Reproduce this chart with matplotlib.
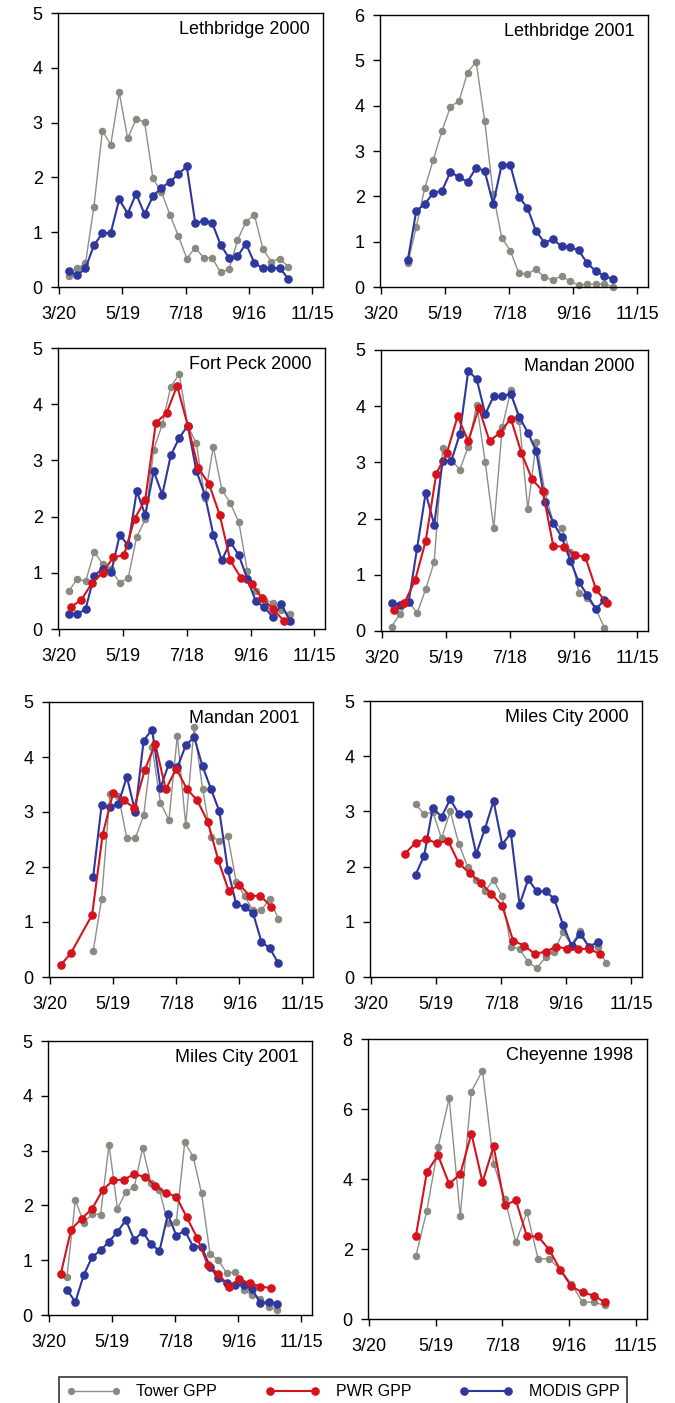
import matplotlib
matplotlib.use('Agg')
import matplotlib.pyplot as plt
from matplotlib.lines import Line2D

plt.rcParams['font.family'] = ['Liberation Sans', 'DejaVu Sans']

# x axis (day of year) ticks
tick_days = [80, 140, 200, 260, 320]
tick_labels = ['3/20', '5/19', '7/18', '9/16', '11/15']

# composite dates (day of year)
days_89_297 = [89, 97, 105, 113, 121, 129, 137, 145, 153, 161, 169, 177, 185, 193,
               201, 209, 217, 225, 233, 241, 249, 257, 265, 273, 281, 289, 297]
days_105_297 = [105, 113, 121, 129, 137, 145, 153, 161, 169, 177, 185, 193, 201,
                209, 217, 225, 233, 241, 249, 257, 265, 273, 281, 289, 297]
days_89_289 = [89, 97, 105, 113, 121, 129, 137, 145, 153, 161, 169, 177, 185, 193,
               201, 209, 217, 225, 233, 241, 249, 257, 265, 273, 281, 289]
days_121_297 = [121, 129, 137, 145, 153, 161, 169, 177, 185, 193, 201, 209, 217,
                225, 233, 241, 249, 257, 265, 273, 281, 289, 297]
days_121_289 = [121, 129, 137, 145, 153, 161, 169, 177, 185, 193, 201, 209, 217,
                225, 233, 241, 249, 257, 265, 273, 281, 289]
days_97_297 = [97, 105, 113, 121, 129, 137, 145, 153, 161, 169, 177, 185, 193, 201,
               209, 217, 225, 233, 241, 249, 257, 265, 273, 281, 289, 297]
pwr_days_91 = [91, 101, 111, 121, 131, 141, 151, 161, 171, 181, 191, 201, 211, 221,
               231, 241, 251, 261, 271, 281, 291]
pwr_days_m01 = [90, 100, 120, 130, 140, 150, 160, 170, 180, 190, 200, 210, 220, 230,
                240, 250, 260, 270, 280, 290]
pwr_days_111 = [111, 121, 131, 141, 151, 161, 171, 181, 191, 201, 211, 221, 231, 241,
                251, 261, 271, 281, 291]
che_days = [122, 132, 142, 152, 162, 172, 182, 192, 202, 212, 222, 232, 242, 252,
            262, 272, 282, 292]

# Lethbridge 2000
leth00_tower = [0.20, 0.34, 0.43, 1.46, 2.85, 2.60, 3.55, 2.71, 3.07, 3.01, 1.98, 1.73, 1.32, 0.93,
                0.52, 0.72, 0.53, 0.53, 0.27, 0.32, 0.85, 1.19, 1.32, 0.70, 0.46, 0.52, 0.37]
leth00_modis = [0.29, 0.21, 0.34, 0.76, 0.98, 0.99, 1.60, 1.34, 1.70, 1.33, 1.66, 1.81, 1.92, 2.06,
                2.20, 1.17, 1.20, 1.17, 0.77, 0.53, 0.56, 0.79, 0.44, 0.34, 0.34, 0.35, 0.15]
# Lethbridge 2001
leth01_tower = [0.52, 1.33, 2.19, 2.81, 3.44, 3.98, 4.10, 4.73, 4.97, 3.67, 2.06, 1.09, 0.80,
                0.31, 0.28, 0.40, 0.21, 0.16, 0.24, 0.13, 0.04, 0.06, 0.07, 0.06, 0.01]
leth01_modis = [0.59, 1.68, 1.83, 2.08, 2.12, 2.54, 2.42, 2.32, 2.63, 2.56, 1.83, 2.70, 2.69,
                1.99, 1.75, 1.24, 0.98, 1.05, 0.90, 0.88, 0.81, 0.53, 0.35, 0.25, 0.17]
# Fort Peck 2000
fp00_tower = [0.67, 0.89, 0.85, 1.37, 1.16, 1.06, 0.82, 0.91, 1.64, 1.95, 3.19, 3.64, 4.31, 4.54,
              3.61, 3.31, 2.33, 3.24, 2.48, 2.24, 1.90, 1.03, 0.68, 0.52, 0.47, 0.34, 0.27]
fp00_modis = [0.26, 0.26, 0.36, 0.95, 1.07, 1.01, 1.67, 1.49, 2.45, 2.03, 2.81, 2.39, 3.09, 3.40,
              3.62, 2.82, 2.39, 1.68, 1.22, 1.55, 1.31, 0.89, 0.49, 0.39, 0.21, 0.44, 0.14]
fp00_pwr = [0.39, 0.52, 0.82, 1.00, 1.28, 1.31, 1.96, 2.30, 3.67, 3.84, 4.33, 3.62, 2.86, 2.58,
            2.03, 1.22, 0.91, 0.80, 0.55, 0.36, 0.15]
# Mandan 2000
m00_tower = [0.08, 0.31, 0.52, 0.32, 0.74, 1.23, 3.25, 3.05, 2.87, 3.28, 4.03, 3.00, 1.83, 3.63,
             4.28, 3.74, 2.17, 3.37, 2.48, 1.93, 1.83, 1.41, 0.68, 0.58, 0.39, 0.06]
m00_modis = [0.49, 0.47, 0.52, 1.48, 2.46, 1.89, 3.03, 3.02, 3.50, 4.63, 4.48, 3.86, 4.18, 4.18,
             4.22, 3.81, 3.53, 3.20, 2.29, 1.92, 1.67, 1.25, 0.87, 0.64, 0.39, 0.55]
m00_pwr = [0.37, 0.50, 0.90, 1.60, 2.80, 3.17, 3.82, 3.38, 3.97, 3.38, 3.53, 3.78, 3.17, 2.70,
           2.49, 1.51, 1.50, 1.35, 1.32, 0.75, 0.49]
# Mandan 2001
m01_tower = [0.47, 1.42, 3.33, 3.30, 2.52, 2.52, 2.94, 4.18, 3.17, 2.85, 4.39, 2.76, 4.55, 3.42,
             2.55, 2.48, 2.56, 1.73, 1.47, 1.21, 1.22, 1.42, 1.06]
m01_modis = [1.82, 3.12, 3.09, 3.15, 3.64, 3.00, 4.30, 4.50, 3.44, 3.88, 3.81, 4.21, 4.36, 3.83,
             3.42, 3.01, 1.95, 1.32, 1.27, 1.16, 0.64, 0.52, 0.25]
m01_pwr = [0.21, 0.44, 1.13, 2.59, 3.35, 3.21, 3.08, 3.76, 4.24, 3.41, 3.79, 3.42, 3.21, 2.82,
           2.12, 1.56, 1.68, 1.47, 1.48, 1.28]
# Miles City 2000
mc00_tower = [3.13, 2.95, 2.99, 2.51, 3.00, 2.41, 2.00, 1.76, 1.55, 1.76, 1.46, 0.55, 0.51, 0.27,
              0.16, 0.36, 0.46, 0.81, 0.58, 0.84, 0.55, 0.55, 0.25]
mc00_modis = [1.85, 2.20, 3.07, 2.90, 3.22, 2.95, 2.95, 2.23, 2.68, 3.19, 2.40, 2.61, 1.31, 1.77,
              1.55, 1.55, 1.42, 0.95, 0.57, 0.78, 0.55, 0.63]
mc00_pwr = [2.23, 2.43, 2.50, 2.42, 2.47, 2.06, 1.88, 1.71, 1.51, 1.29, 0.66, 0.57, 0.42, 0.46,
            0.55, 0.51, 0.51, 0.51, 0.42]
# Miles City 2001
mc01_tower = [0.69, 2.10, 1.68, 1.85, 1.83, 3.11, 1.94, 2.24, 2.34, 3.05, 2.40, 2.28, 1.67, 1.70,
              3.15, 2.89, 2.22, 1.12, 1.00, 0.76, 0.79, 0.46, 0.36, 0.30, 0.14, 0.09]
mc01_modis = [0.46, 0.24, 0.73, 1.06, 1.18, 1.34, 1.52, 1.73, 1.37, 1.52, 1.29, 1.17, 1.84, 1.45,
              1.54, 1.25, 1.25, 0.88, 0.67, 0.58, 0.55, 0.55, 0.47, 0.22, 0.24, 0.20]
mc01_pwr = [0.74, 1.56, 1.76, 1.94, 2.28, 2.46, 2.47, 2.57, 2.52, 2.36, 2.23, 2.16, 1.78, 1.40,
            0.91, 0.75, 0.52, 0.65, 0.58, 0.52, 0.49]
# Cheyenne 1998
che98_tower = [1.79, 3.10, 4.91, 6.31, 2.93, 6.50, 7.10, 4.44, 3.44, 2.19, 3.05, 1.72, 1.72, 1.41,
               1.00, 0.48, 0.48, 0.39]
che98_pwr = [2.36, 4.20, 4.68, 3.86, 4.14, 5.30, 3.91, 4.93, 3.25, 3.39, 2.36, 2.36, 1.98, 1.41,
             0.93, 0.76, 0.67, 0.48]

# styles
tower_c, tower_mc = '#8e8e8a', '#8a8a80'
pwr_c = '#d4141c'
modis_c = '#2e379c'

W, H = 675, 1403
fig = plt.figure(figsize=(W / 100, H / 100), dpi=100)


def px_axes(x0, y0, x1, y1):
    return fig.add_axes([x0 / W, 1 - y1 / H, (x1 - x0) / W, (y1 - y0) / H])


def draw_tower(ax, x, y):
    ax.plot(x, y, '-o', color=tower_c, mfc=tower_mc, mec=tower_mc, lw=1.0, ms=4.4,
            clip_on=False, zorder=2)


def draw_modis(ax, x, y):
    ax.plot(x, y, '-o', color=modis_c, lw=1.5, ms=5.2, clip_on=False, zorder=3)


def draw_pwr(ax, x, y):
    ax.plot(x, y, '-o', color=pwr_c, lw=1.5, ms=5.2, clip_on=False, zorder=4)


panels = [
    ((58, 13, 323, 287), 'Lethbridge 2000', 5,
     [(days_89_297, leth00_tower, 't'), (days_89_297, leth00_modis, 'm')]),
    ((380, 15, 648, 287), 'Lethbridge 2001', 6,
     [(days_105_297, leth01_tower, 't'), (days_105_297, leth01_modis, 'm')]),
    ((58, 348, 325, 629), 'Fort Peck 2000', 5,
     [(days_89_297, fp00_tower, 't'), (days_89_297, fp00_modis, 'm'), (pwr_days_91, fp00_pwr, 'p')]),
    ((381, 350, 648, 631), 'Mandan 2000', 5,
     [(days_89_289, m00_tower, 't'), (days_89_289, m00_modis, 'm'), (pwr_days_91, m00_pwr, 'p')]),
    ((49, 702, 313, 977), 'Mandan 2001', 5,
     [(days_121_297, m01_tower, 't'), (days_121_297, m01_modis, 'm'), (pwr_days_m01, m01_pwr, 'p')]),
    ((370, 701, 642, 977), 'Miles City 2000', 5,
     [(days_121_297, mc00_tower, 't'), (days_121_289, mc00_modis, 'm'), (pwr_days_111, mc00_pwr, 'p')]),
    ((48, 1041, 312, 1315), 'Miles City 2001', 5,
     [(days_97_297, mc01_tower, 't'), (days_97_297, mc01_modis, 'm'), (pwr_days_91, mc01_pwr, 'p')]),
    ((368, 1039, 647, 1319), 'Cheyenne 1998', 8,
     [(che_days, che98_tower, 't'), (che_days, che98_pwr, 'p')]),
]

for rect, title, ymax, series in panels:
    ax = px_axes(*rect)
    for x, y, kind in series:
        if kind == 't':
            draw_tower(ax, x, y)
        elif kind == 'm':
            draw_modis(ax, x, y)
        else:
            draw_pwr(ax, x, y)
    ax.set_xlim(79, 330)
    ax.set_ylim(0, ymax)
    ax.set_xticks(tick_days)
    ax.set_xticklabels(tick_labels)
    if ymax == 8:
        ax.set_yticks([0, 2, 4, 6, 8])
    else:
        ax.set_yticks(range(0, ymax + 1))
    for s in ax.spines.values():
        s.set_linewidth(1.0)
    ax.tick_params(axis='both', direction='out', length=5, width=1.0, labelsize=13)
    ax.tick_params(axis='x', pad=9)
    ax.tick_params(axis='y', pad=6)
    ax.text(0.95, 0.94, title, transform=ax.transAxes, ha='right', va='center', fontsize=13)

handles = [
    Line2D([], [], color=tower_c, marker='o', mfc=tower_mc, mec=tower_mc, lw=1.0, ms=4.2),
    Line2D([], [], color=pwr_c, marker='o', lw=1.5, ms=5.2),
    Line2D([], [], color=modis_c, marker='o', lw=1.5, ms=5.2),
]
leg = fig.legend(handles, ['Tower GPP', 'PWR GPP', 'MODIS GPP'], ncol=3, numpoints=2,
                 loc='upper left', bbox_to_anchor=(59 / W, 1 - 1377 / H), fontsize=11.5,
                 handlelength=3.4, handletextpad=1.0, columnspacing=3.0,
                 borderpad=0.45, borderaxespad=0, fancybox=False, frameon=True)
leg.get_frame().set_edgecolor('black')
leg.get_frame().set_linewidth(1.2)

fig.savefig('out.png', dpi=100)
